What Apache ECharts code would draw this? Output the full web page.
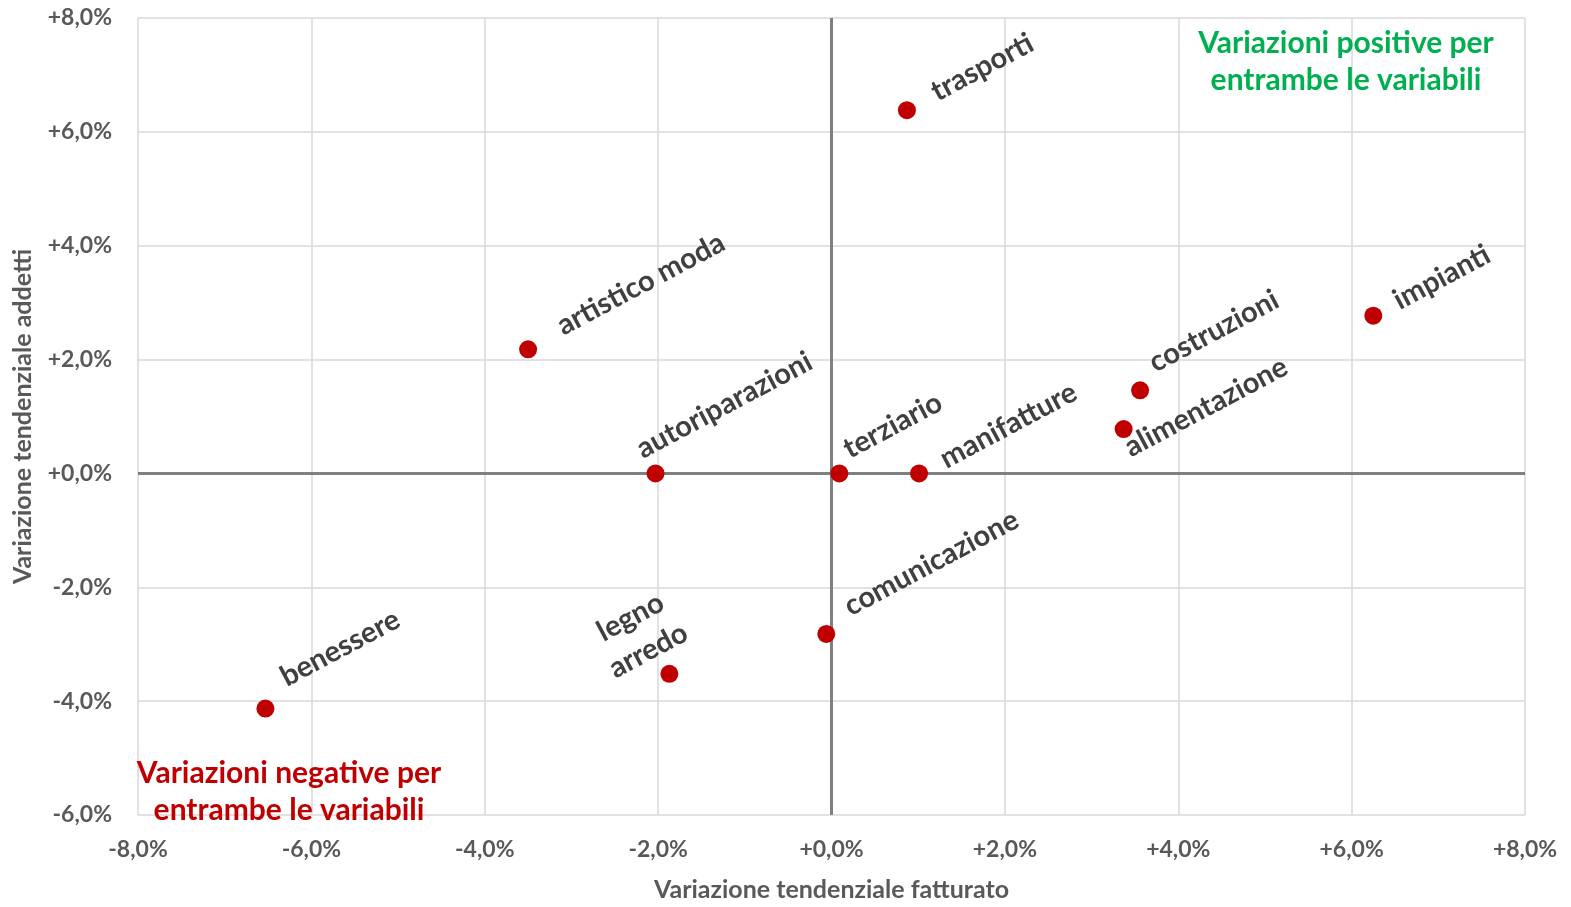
<!DOCTYPE html>
<html>
<head>
<meta charset="utf-8">
<script src="https://cdn.jsdelivr.net/npm/echarts@6/dist/echarts.min.js"></script>
<style>html,body{margin:0;padding:0;background:#fff;overflow:hidden}#c{width:1571px;height:907px}</style>
</head>
<body>
<div id="c"></div>
<script>
const categories = ['trasporti','artistico moda','autoriparazioni','terziario','manifatture','costruzioni','alimentazione','impianti','comunicazione','legno\narredo','benessere'];
const fatturato = [0.87, -3.50, -2.03, 0.09, 1.01, 3.56, 3.37, 6.25, -0.06, -1.87, -6.53];
const addetti   = [6.38, 2.18, 0.00, 0.00, 0.00, 1.46, 0.78, 2.77, -2.82, -3.52, -4.13];
const xTicks = [-8, -6, -4, -2, 0, 2, 4, 6, 8];
const yTicks = [-6, -4, -2, 0, 2, 4, 6, 8];

const FONT = 'Lato';
const fmt = v => (v >= 0 ? '+' : '') + v.toFixed(1).replace('.', ',') + '%';

// label placement per category (offset from marker centre)
const labelPlace = {
  'trasporti': [35, 0, 'left', 'bottom'],
  'artistico moda': [40, -5, 'left', 'bottom'],
  'autoriparazioni': [-8, -6, 'left', 'bottom'],
  'terziario': [15, -6, 'left', 'bottom'],
  'manifatture': [32, 4, 'left', 'bottom'],
  'costruzioni': [20, -9, 'left', 'bottom'],
  'alimentazione': [12, 37, 'left', 'bottom'],
  'impianti': [31, 3, 'left', 'bottom'],
  'comunicazione': [29, -9, 'left', 'bottom'],
  'legno\narredo': [-30, -40, 'center', 'middle'],
  'benessere': [26, -13, 'left', 'bottom']
};
const SYM = 18;
const data = categories.map((name, i) => {
  const p = labelPlace[name];
  return {
    name: name,
    value: [fatturato[i], addetti[i]],
    label: {
      position: [SYM / 2 + p[0], SYM / 2 + p[1]],
      align: p[2],
      verticalAlign: p[3]
    }
  };
});

const chart = echarts.init(document.getElementById('c'));
chart.setOption({
  animation: false,
  textStyle: { fontFamily: FONT },
  grid: { left: 138, top: 18, width: 1387, height: 803, containLabel: false },
  xAxis: {
    type: 'value', min: xTicks[0], max: xTicks[xTicks.length - 1], interval: 2,
    name: 'Variazione tendenziale fatturato', nameLocation: 'middle', nameGap: 62,
    nameTextStyle: { fontFamily: FONT, fontWeight: 'bold', fontSize: 25, color: '#595959' },
    axisLine: { show: false }, axisTick: { show: false },
    axisLabel: { formatter: fmt, fontFamily: FONT, fontWeight: 'bold', fontSize: 23, color: '#595959', margin: 23 },
    splitLine: { show: true, lineStyle: { color: '#d9d9d9', width: 1.5 } }
  },
  yAxis: {
    type: 'value', min: yTicks[0], max: yTicks[yTicks.length - 1], interval: 2,
    name: 'Variazione tendenziale addetti', nameLocation: 'middle', nameGap: 103,
    nameTextStyle: { fontFamily: FONT, fontWeight: 'bold', fontSize: 25, color: '#595959' },
    axisLine: { show: false }, axisTick: { show: false },
    axisLabel: { formatter: fmt, fontFamily: FONT, fontWeight: 'bold', fontSize: 23, color: '#595959', margin: 26 },
    splitLine: { show: true, lineStyle: { color: '#d9d9d9', width: 1.5 } }
  },
  series: [{
    type: 'scatter',
    symbolSize: SYM,
    itemStyle: { color: '#c00000', opacity: 1 },
    data: data,
    label: {
      show: true,
      formatter: p => p.name,
      rotate: 28,
      fontFamily: FONT, fontWeight: 'bold', fontSize: 29, color: '#404040', lineHeight: 38
    },
    markLine: {
      silent: true, symbol: 'none', label: { show: false },
      lineStyle: { color: '#808080', width: 3, type: 'solid' },
      data: [{ xAxis: 0 }, { yAxis: 0 }],
      z: 1
    },
    z: 3
  }],
  graphic: [
    { type: 'text', x: 1346, y: 25, z: 10,
      style: { text: 'Variazioni positive per\nentrambe le variabili', align: 'center',
        font: 'bold 30px Lato', fill: '#00b050', lineHeight: 37 } },
    { type: 'text', x: 289, y: 755, z: 10,
      style: { text: 'Variazioni negative per\nentrambe le variabili', align: 'center',
        font: 'bold 30px Lato', fill: '#c00000', lineHeight: 37 } }
  ]
});
</script>
</body>
</html>
